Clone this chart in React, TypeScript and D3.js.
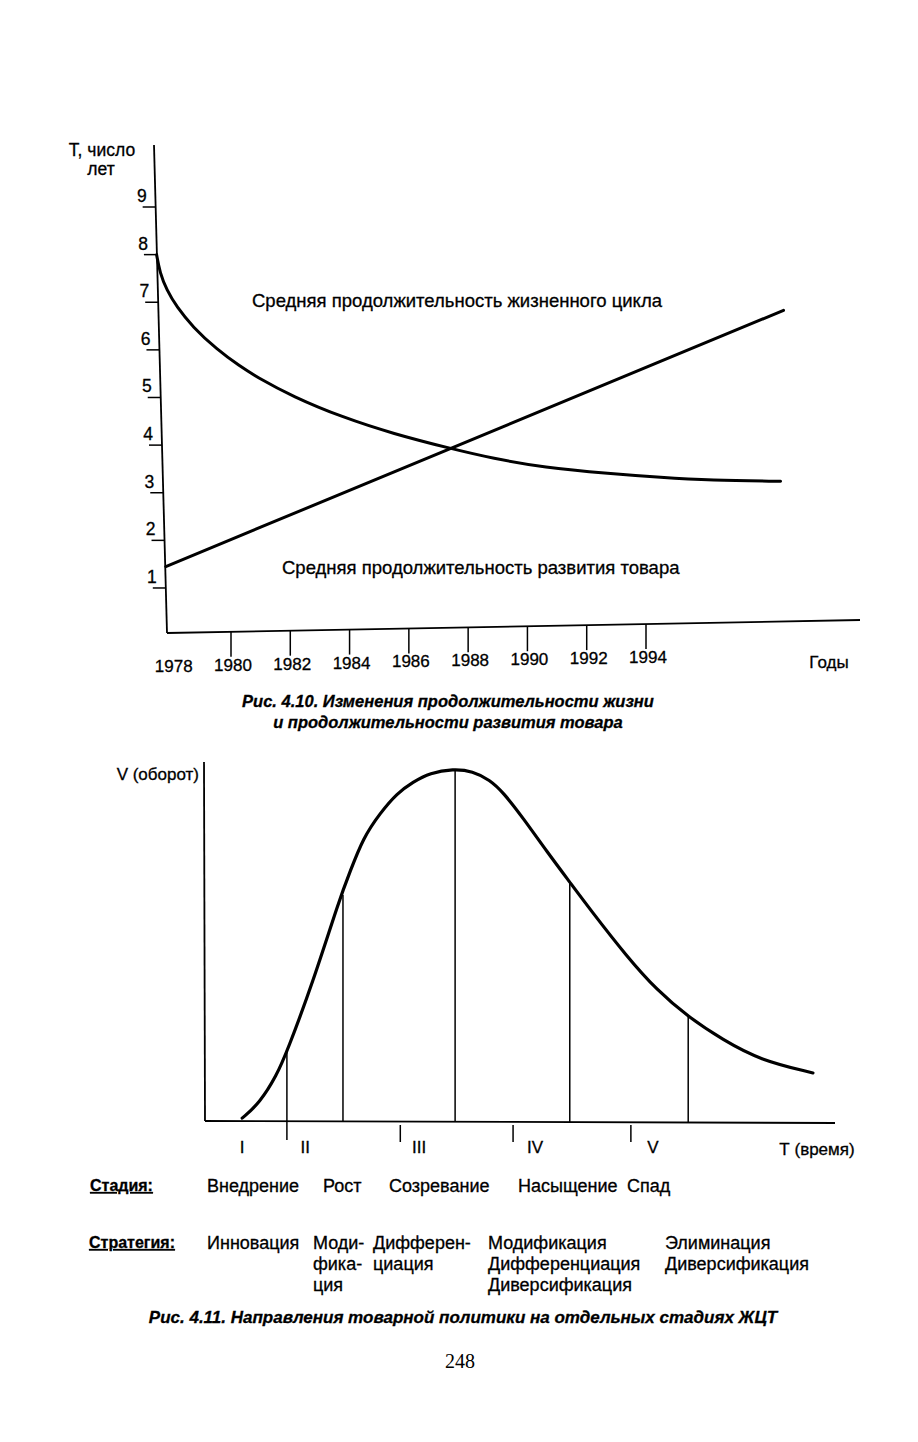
import React from 'react';
import * as d3 from 'd3';

// Рис. 4.10 — годы и значения
const yearTicks = [1980, 1982, 1984, 1986, 1988, 1990, 1992, 1994];
const yearLabels = [1978, 1980, 1982, 1984, 1986, 1988, 1990, 1992, 1994];
const valueTicks = [1, 2, 3, 4, 5, 6, 7, 8, 9];

const lifeYears = [1977.49, 1977.6, 1977.83, 1978.17, 1978.71, 1979.52, 1980.29, 1980.87, 1982.08, 1983.78, 1985.47, 1987.39, 1988.84, 1990.53, 1992.8, 1994.49, 1996.18, 1998.54];
const lifeValues = [8.0, 7.62, 7.26, 6.9, 6.48, 6.01, 5.66, 5.43, 5.02, 4.58, 4.24, 3.93, 3.72, 3.53, 3.4, 3.32, 3.26, 3.24];

const devYears = [1977.8, 1998.64];
const devValues = [1.45, 6.83];

// Рис. 4.11 — кривая ЖЦТ (время и оборот в условных единицах)
const salesTime = [5.9, 8.7, 11.4, 13.0, 17.1, 21.4, 23.0, 25.1, 27.8, 30.5, 33.0, 35.7, 39.4, 42.5, 45.2, 47.3, 50.5, 54.3, 57.9, 61.1, 67.0, 71.7, 76.7, 82.2, 88.1, 96.5];
const salesVolume = [0.8, 5.1, 12.9, 19.4, 38.8, 62.6, 69.9, 79.5, 86.5, 92.1, 95.2, 97.8, 98.9, 98.3, 95.8, 92.4, 85.1, 75.6, 67.1, 59.5, 46.1, 36.8, 29.2, 22.8, 17.1, 13.5];

const boundaryTime = [13.0, 21.9, 39.7, 57.9, 76.7];
const boundaryVolume = [19.4, 63.5, 98.8, 67.1, 29.2];
const stageTickTime = [31.0, 48.9, 67.6];
const stageNumerals = ['I', 'II', 'III', 'IV', 'V'];
const stageNumeralTime = [5.9, 15.9, 34.0, 52.4, 71.1];

const stageNames = ['Внедрение', 'Рост', 'Созревание', 'Насыщение', 'Спад'];
const strategyLines = [
  ['Инновация'],
  ['Моди-', 'фика-', 'ция'],
  ['Дифферен-', 'циация'],
  ['Модификация', 'Дифференциация', 'Диверсификация'],
  ['Элиминация', 'Диверсификация'],
];

const W = 918;
const H = 1442;
const sans = '"Liberation Sans", Arial, sans-serif';
// scan text is a bit heavier than a clean font
const ink = { stroke: '#000', strokeWidth: 0.3 };

const App: React.FC = () => {
  // chart 1: the scan is slightly rotated, so the axes lean a little
  const x1 = d3.scaleLinear().domain([1980, 1994]).range([231, 646]);
  const y1 = d3.scaleLinear().domain([0, 9]).range([635.6, 207]);
  const axisX = (y: number) => 154 + (y - 145) * (13 / 488);
  const axisY = (x: number) => 633 - (x - 167) * (13 / 693);

  const line1 = d3.line<number>()
    .x((_, i) => x1(lifeYears[i]))
    .y(d => y1(d))
    .curve(d3.curveBasis);

  const devLine = d3.line<number>()
    .x((_, i) => x1(devYears[i]))
    .y(d => y1(d));

  // chart 2
  const x2 = d3.scaleLinear().domain([0, 100]).range([205, 835]);
  const y2 = d3.scaleLinear().domain([0, 100]).range([1121, 765]);
  const line2 = d3.line<number>()
    .x((_, i) => x2(salesTime[i]))
    .y(d => y2(d))
    .curve(d3.curveBasis);

  const stageTextX = [207, 323, 389, 518, 627];
  const strategyX = [207, 313, 373, 488, 665];

  return (
    <svg width={W} height={H} style={{ position: 'absolute', left: 0, top: 0, background: '#fff' }}
      fontFamily={sans} fill="#000">
      {/* ---------- Рис. 4.10 ---------- */}
      <g {...ink}>
        <text x={102} y={156} fontSize={17.5} textAnchor="middle">Т, число</text>
        <text x={101} y={175} fontSize={17.5} textAnchor="middle">лет</text>
      </g>

      <line x1={axisX(145)} y1={145} x2={axisX(633)} y2={633} stroke="#000" strokeWidth={1.8} />
      <line x1={axisX(633)} y1={633} x2={860} y2={axisY(860)} stroke="#000" strokeWidth={1.8} />

      {valueTicks.map(v => {
        const ty = y1(v);
        const ax = axisX(ty);
        return (
          <g key={v}>
            <line x1={ax - 13} y1={ty} x2={ax} y2={ty} stroke="#000" strokeWidth={1.5} />
            <text x={ax - 9} y={ty - 5} fontSize={17.5} textAnchor="end" {...ink}>{v}</text>
          </g>
        );
      })}

      {yearTicks.map(yr => {
        const tx = x1(yr);
        const ty = axisY(tx);
        return <line key={yr} x1={tx} y1={ty} x2={tx} y2={ty + 25} stroke="#000" strokeWidth={1.5} />;
      })}
      {yearLabels.map(yr => {
        const tx = x1(yr) + 2;
        return <text key={yr} x={tx} y={axisY(tx) + 39} fontSize={17} textAnchor="middle" {...ink}>{yr}</text>;
      })}
      <text x={829} y={668} fontSize={17} textAnchor="middle" {...ink}>Годы</text>

      <path d={line1(lifeValues) || ''} fill="none" stroke="#000" strokeWidth={3} strokeLinecap="round" />
      <path d={devLine(devValues) || ''} fill="none" stroke="#000" strokeWidth={3} strokeLinecap="round" />

      <g {...ink}>
        <text x={252} y={307} fontSize={18.5}>Средняя продолжительность жизненного цикла</text>
        <text x={282} y={574} fontSize={18.5}>Средняя продолжительность развития товара</text>
      </g>

      <g {...ink}>
        <text x={448} y={707} fontSize={16.5} fontWeight="bold" fontStyle="italic" textAnchor="middle">
          Рис. 4.10. Изменения продолжительности жизни
        </text>
        <text x={448} y={728} fontSize={16.5} fontWeight="bold" fontStyle="italic" textAnchor="middle">
          и продолжительности развития товара
        </text>
      </g>

      {/* ---------- Рис. 4.11 ---------- */}
      <text x={199} y={780} fontSize={17} textAnchor="end" {...ink}>V (оборот)</text>
      <line x1={x2(0) - 1} y1={762} x2={x2(0)} y2={y2(0)} stroke="#000" strokeWidth={1.8} />
      <line x1={x2(0)} y1={y2(0)} x2={x2(100)} y2={y2(0) + 2} stroke="#000" strokeWidth={1.8} />

      <path d={line2(salesVolume) || ''} fill="none" stroke="#000" strokeWidth={3.2} strokeLinecap="round" />

      {boundaryTime.map((t, i) => (
        <line key={t} x1={x2(t)} y1={y2(boundaryVolume[i])} x2={x2(t)} y2={i === 0 ? 1140 : y2(0) + 1}
          stroke="#000" strokeWidth={1.5} />
      ))}
      {stageTickTime.map(t => (
        <line key={t} x1={x2(t)} y1={y2(0) + 4} x2={x2(t)} y2={y2(0) + 21} stroke="#000" strokeWidth={1.5} />
      ))}
      <g {...ink}>
        {stageNumerals.map((s, i) => (
          <text key={s} x={x2(stageNumeralTime[i])} y={1153} fontSize={17} textAnchor="middle">{s}</text>
        ))}
        <text x={817} y={1155} fontSize={17} textAnchor="middle">Т (время)</text>
      </g>

      {/* подписи стадий и стратегий */}
      <g {...ink}>
        <text x={90} y={1191} fontSize={16} fontWeight="bold" textDecoration="underline">Стадия:</text>
        {stageNames.map((s, i) => (
          <text key={s} x={stageTextX[i]} y={1192} fontSize={18}>{s}</text>
        ))}

        <text x={89} y={1248} fontSize={16} fontWeight="bold" textDecoration="underline">Стратегия:</text>
        {strategyLines.map((col, i) => (
          <g key={i}>
            {col.map((s, j) => (
              <text key={j} x={strategyX[i]} y={1249 + j * 21} fontSize={18}>{s}</text>
            ))}
          </g>
        ))}

        <text x={463} y={1323} fontSize={17} fontWeight="bold" fontStyle="italic" textAnchor="middle">
          Рис. 4.11. Направления товарной политики на отдельных стадиях ЖЦТ
        </text>
      </g>

      <text x={460} y={1368} fontSize={20} fontFamily={'"Liberation Serif", "Times New Roman", serif'}
        textAnchor="middle">248</text>
    </svg>
  );
};

export default App;
